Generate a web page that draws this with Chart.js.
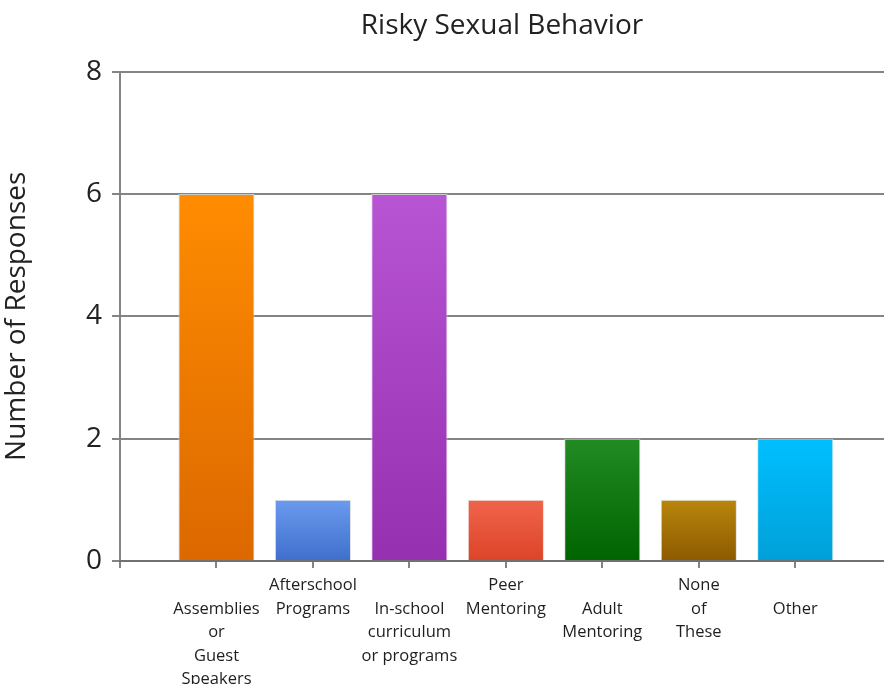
<!DOCTYPE html>
<html>
<head>
<meta charset="utf-8">
<script src="https://cdn.jsdelivr.net/npm/chart.js@4.4.1/dist/chart.umd.min.js"></script>
<style>
  html, body { margin: 0; padding: 0; background: #fff; }
  #wrap { width: 884px; height: 684px; }
</style>
</head>
<body>
<div id="wrap"><canvas id="chart" width="884" height="684"></canvas></div>
<script>
// chart data
const categories = [
  ['Assemblies', 'or', 'Guest', 'Speakers'],
  ['Afterschool', 'Programs'],
  ['In-school', 'curriculum', 'or programs'],
  ['Peer', 'Mentoring'],
  ['Adult', 'Mentoring'],
  ['None', 'of', 'These'],
  ['Other']
];
const responses = [6, 1, 6, 1, 2, 1, 2];
const yTicks = [0, 2, 4, 6, 8];

// bar colours, light at the top, darker at the bottom
const topColors = ['#ff8c00', '#6a9bee', '#b855d4', '#f0644c', '#228b22', '#b8860b', '#00bfff'];
const bottomColors = ['#dc6800', '#3f6fcc', '#9530b0', '#dc4428', '#006400', '#8c5a00', '#00a0d8'];

const GRID = 'rgba(110, 110, 110, 0.85)';
const FONT = '"Open Sans", "DejaVu Sans", sans-serif';

function barGradient(context) {
  const chart = context.chart;
  const i = context.dataIndex;
  if (!chart.chartArea || i === undefined) return topColors[i || 0];
  const y = chart.scales.y;
  const top = y.getPixelForValue(responses[i]);
  const bottom = y.getPixelForValue(0);
  const g = chart.ctx.createLinearGradient(0, top, 0, bottom);
  g.addColorStop(0, topColors[i]);
  g.addColorStop(1, bottomColors[i]);
  return g;
}

const ctx = document.getElementById('chart').getContext('2d');
new Chart(ctx, {
  type: 'bar',
  data: {
    datasets: [{
      data: responses.map((v, i) => ({ x: i, y: v })),
      backgroundColor: barGradient,
      borderColor: 'rgba(220, 220, 220, 0.8)',
      borderWidth: 1,
      barPercentage: 0.79,
      categoryPercentage: 1
    }]
  },
  options: {
    responsive: false,
    animation: false,
    layout: { padding: { left: 0, right: 0, top: 0, bottom: 0 } },
    plugins: {
      legend: { display: false },
      tooltip: { enabled: false },
      title: {
        display: true,
        fullSize: false,
        text: 'Risky Sexual Behavior',
        color: '#222',
        font: { family: FONT, size: 28, weight: 'normal' },
        padding: { top: 9, bottom: 29 }
      }
    },
    scales: {
      x: {
        type: 'linear',
        offset: false,
        min: -1,
        max: 6.92,
        grid: {
          offset: false,
          drawOnChartArea: false,
          drawTicks: true,
          tickLength: 7,
          color: GRID,
          lineWidth: 2
        },
        border: { display: true, color: GRID, width: 2 },
        ticks: {
          stepSize: 1,
          includeBounds: false,
          autoSkip: false,
          maxRotation: 0,
          minRotation: 0,
          padding: 6,
          color: '#1e1e1e',
          font: { family: FONT, size: 16.5, weight: '500', lineHeight: 1.42 },
          callback: (value) => {
            const lines = categories[value];
            if (!lines) return '';
            // labels alternate between a higher and a lower row
            return value % 2 === 0 ? [''].concat(lines) : lines;
          }
        },
        afterFit: (scale) => { scale.height = 123; }
      },
      y: {
        min: 0,
        max: 8,
        afterBuildTicks: (scale) => { scale.ticks = yTicks.map(v => ({ value: v })); },
        grid: {
          color: GRID,
          lineWidth: 2,
          tickLength: 8
        },
        border: { display: true, color: GRID, width: 2 },
        ticks: {
          padding: 10,
          color: '#222',
          font: { family: FONT, size: 28 }
        },
        title: {
          display: true,
          text: 'Number of Responses',
          color: '#222',
          font: { family: FONT, size: 28 },
          padding: { top: 0, bottom: 4 }
        },
        afterFit: (scale) => { scale.width = 120; }
      }
    }
  }
});
</script>
</body>
</html>
